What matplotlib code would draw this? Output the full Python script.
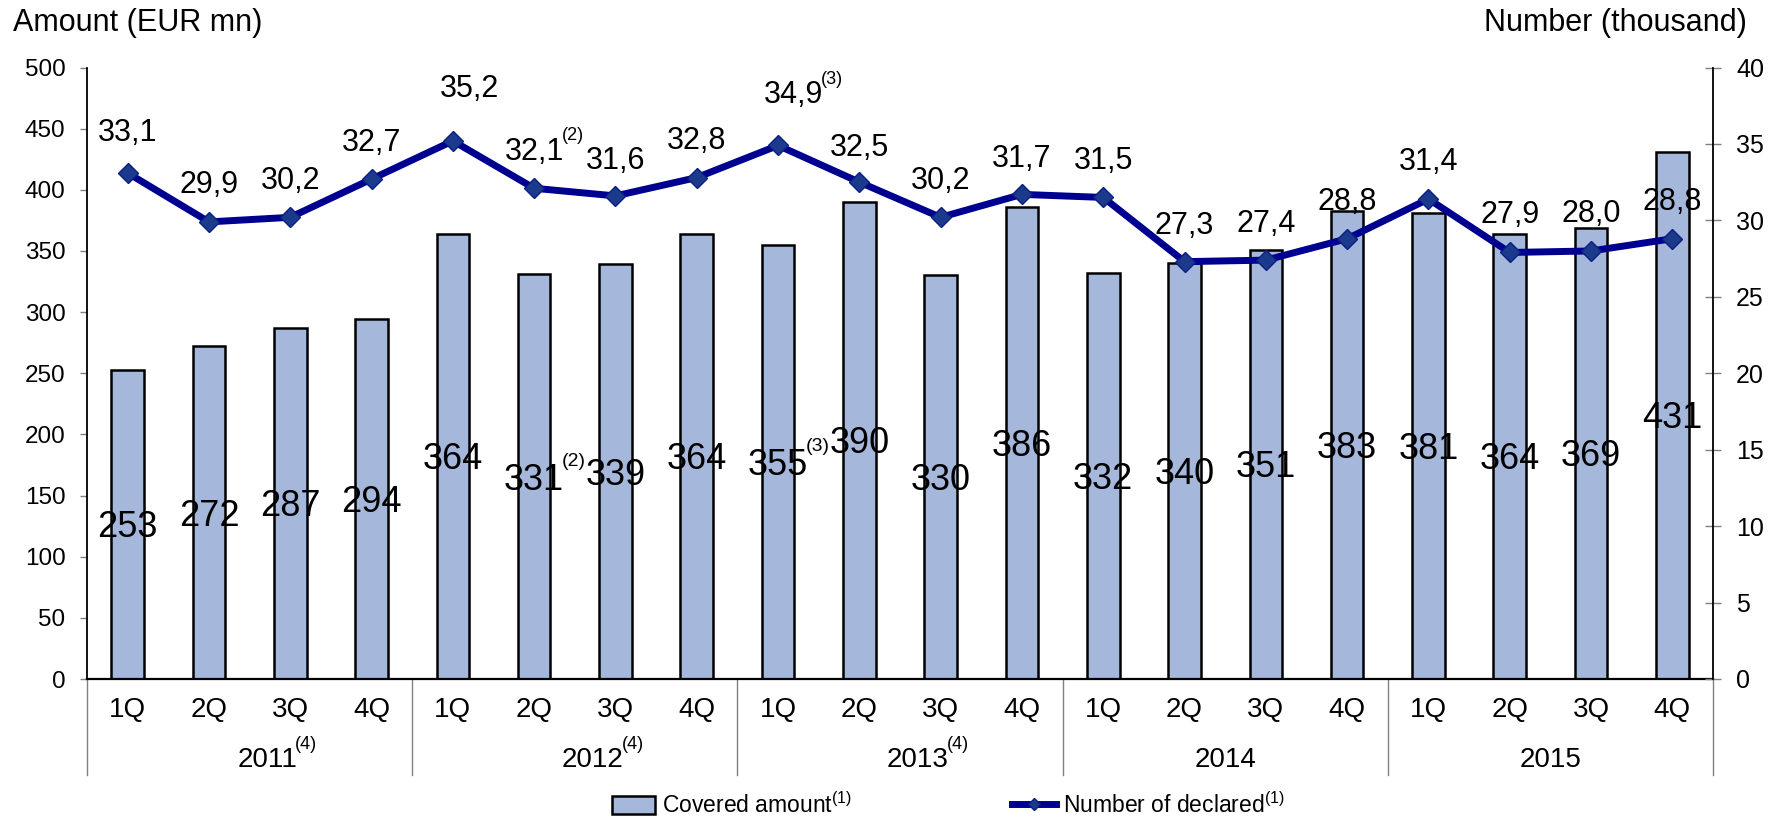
import numpy as np
import matplotlib
matplotlib.use("Agg")
import matplotlib.pyplot as plt

plt.rcParams['font.family'] = ['Liberation Sans', 'DejaVu Sans']
plt.rcParams['mathtext.fontset'] = 'custom'
plt.rcParams['mathtext.rm'] = 'Liberation Sans'
plt.rcParams['mathtext.it'] = 'Liberation Sans:italic'

# data
quarters = ["1Q", "2Q", "3Q", "4Q"]
years = ["2011", "2012", "2013", "2014", "2015"]
year_notes = ["(4)", "(4)", "(4)", "", ""]
amount = [253, 272, 287, 294, 364, 331, 339, 364, 355, 390,
          330, 386, 332, 340, 351, 383, 381, 364, 369, 431]
number = [33.1, 29.9, 30.2, 32.7, 35.2, 32.1, 31.6, 32.8, 34.9, 32.5,
          30.2, 31.7, 31.5, 27.3, 27.4, 28.8, 31.4, 27.9, 28.0, 28.8]
notes = {5: "(2)", 8: "(3)"}

# label placement (line labels sit above the markers)
line_dx = [0, 0, 0, 0, 0.2, 0, 0, 0, 0.19, 0, 0, 0, 0, 0, 0, 0, 0, 0, 0, 0]
line_dy = [43, 40, 39, 39, 55, 39, 38, 40, 53, 37, 39, 38, 39, 39, 39, 40, 40, 40, 40, 40]

bar_color = '#A5B8DC'
line_color = '#000090'
grey = '#808080'

fig = plt.figure(figsize=(17.82, 8.17), dpi=100)
W, H = 1782, 817
ax = fig.add_axes([87 / W, 1 - 679 / H, (1713 - 87) / W, (679 - 67.5) / H])
ax2 = ax.twinx()

x = np.arange(len(amount))
bars = ax.bar(x, amount, width=0.40, color=bar_color, edgecolor='black', linewidth=1.8, zorder=2)
line, = ax2.plot(x, number, color=line_color, lw=5, marker='D', ms=10,
                 mfc='#1B3A8C', mec='#0A1E82', mew=1, zorder=3)

ax.set_xlim(-0.5, len(amount) - 0.5)
ax.set_ylim(0, 500)
ax2.set_ylim(0, 40)
ax.set_yticks(range(0, 501, 50))
ax2.set_yticks(range(0, 41, 5))
ax.set_xticks([])

for s in ['top', 'right']:
    ax.spines[s].set_visible(False)
for s in ['top', 'left', 'bottom']:
    ax2.spines[s].set_visible(False)
ax.spines['left'].set_linewidth(1.3)
ax.spines['bottom'].set_linewidth(1.6)
ax2.spines['right'].set_linewidth(1.3)

ax.tick_params(axis='y', direction='out', length=5, width=1, color=grey, labelsize=17.5, pad=10.5)
ax2.tick_params(axis='y', direction='inout', length=11.5, width=1, color=grey, labelsize=18, pad=10.8)


def sup_label(axis, main, text, fs, size):
    axis.annotate(text, xy=(1, 0), xycoords=main, xytext=(-1.5, 0.88 * fs),
                  textcoords='offset points', ha='left', va='baseline', fontsize=size)


# bar labels at bar middle
for i, v in enumerate(amount):
    t = ax.annotate(str(v), xy=(i, v / 2), xytext=(0, -0.358 * 26), textcoords='offset points',
                    ha='center', va='baseline', fontsize=26, zorder=4)
    if i in notes:
        sup_label(ax, t, notes[i], 26, 14)

# line labels
for i, v in enumerate(number):
    t = ax2.annotate(f"{v:.1f}".replace('.', ','), xy=(i + line_dx[i], v),
                     xytext=(0, line_dy[i] * 0.72 - 0.358 * 22), textcoords='offset points',
                     ha='center', va='baseline', fontsize=22, zorder=5)
    if i in notes:
        sup_label(ax2, t, notes[i], 22, 13)

# category axis: quarters, years and separators
xt = ax.get_xaxis_transform()
for i in x:
    ax.text(i, -0.0621, quarters[i % 4], transform=xt, ha='center', va='baseline', fontsize=20)
for g, yr in enumerate(years):
    shift = 0.22 if year_notes[g] else 0
    t = ax.text(4 * g + 1.5 + shift, -0.1439, yr, transform=xt, ha='center', va='baseline', fontsize=20)
    if year_notes[g]:
        sup_label(ax, t, year_notes[g], 20, 13)
for k in range(len(years) + 1):
    xk = -0.5 + 4 * k
    ax.plot([xk, xk], [0, -0.157], transform=xt, color=grey, lw=1, clip_on=False)

# axis titles
fig.text(13 / W, 1 - 31 / H, "Amount (EUR mn)", fontsize=22, ha='left', va='baseline')
fig.text(1747 / W, 1 - 31 / H, "Number (thousand)", fontsize=22, ha='right', va='baseline')

fig.legend([bars, line], [r'Covered amount$^{(1)}$', r'Number of declared$^{(1)}$'],
           loc='center', bbox_to_anchor=(0.532, 0.0147), ncol=2, frameon=False,
           fontsize=16.5, handlelength=1.9, handleheight=0.8, handletextpad=0.3,
           columnspacing=7, markerscale=0.6, borderpad=0)

fig.savefig("out.png", dpi=100)
